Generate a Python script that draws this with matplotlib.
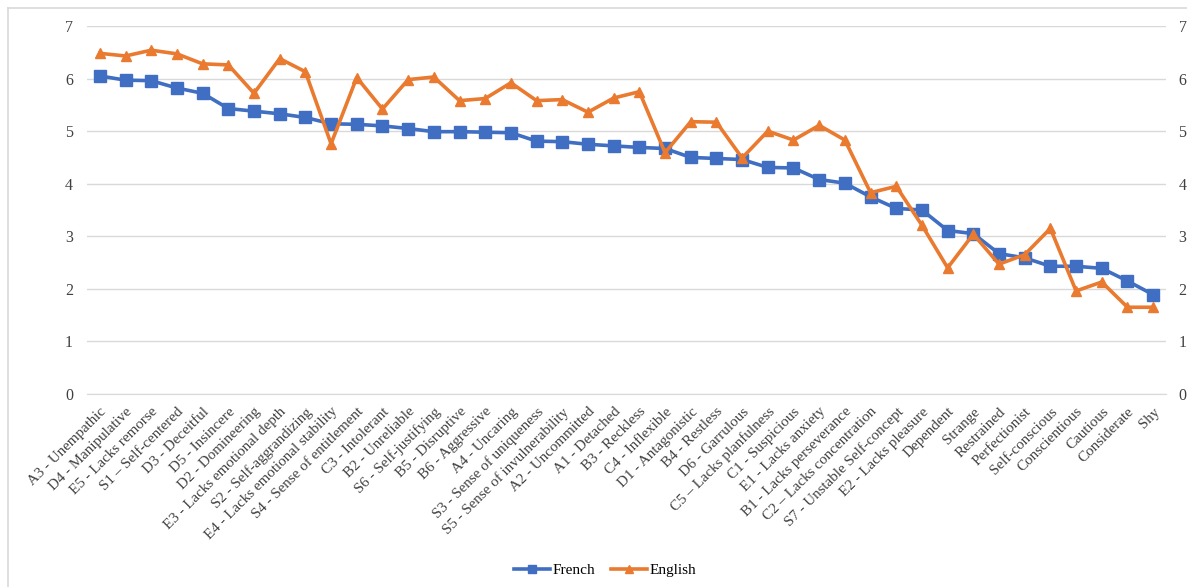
import matplotlib.pyplot as plt
from matplotlib.lines import Line2D

# -----------------------------
# Data
# -----------------------------
traits = [
    "A3 - Unempathic", "D4 - Manipulative", "E5 - Lacks remorse", "S1 \u2013 Self-centered",
    "D3 - Deceitful", "D5 - Insincere", "D2 - Domineering", "E3 - Lacks emotional depth",
    "S2 - Self-aggrandizing", "E4 - Lacks emotional stability", "S4 - Sense of entitlement",
    "C3 - Intolerant", "B2 - Unreliable", "S6 - Self-justifying", "B5 - Disruptive",
    "B6 - Aggressive", "A4 - Uncaring", "S3 - Sense of uniqueness",
    "S5 - Sense of invulnerability", "A2 - Uncommitted", "A1 - Detached", "B3 - Reckless",
    "C4 - Inflexible", "D1 - Antagonistic", "B4 - Restless", "D6 - Garrulous",
    "C5 \u2013 Lacks planfulness", "C1 - Suspicious", "E1 - Lacks anxiety",
    "B1 - Lacks perseverance", "C2 \u2013 Lacks concentration", "S7 - Unstable Self-concept",
    "E2 - Lacks pleasure", "Dependent", "Strange", "Restrained", "Perfectionist",
    "Self-conscious", "Conscientious", "Cautious", "Considerate", "Shy",
]

french = [6.05, 5.97, 5.96, 5.82, 5.72, 5.43, 5.38, 5.33, 5.26, 5.14, 5.13, 5.10, 5.05,
          4.99, 4.99, 4.98, 4.97, 4.81, 4.80, 4.75, 4.72, 4.69, 4.67, 4.50, 4.48, 4.46,
          4.31, 4.30, 4.08, 4.01, 3.75, 3.53, 3.50, 3.11, 3.05, 2.67, 2.59, 2.43, 2.43,
          2.39, 2.15, 1.89]

english = [6.48, 6.43, 6.54, 6.47, 6.28, 6.26, 5.72, 6.38, 6.13, 4.76, 6.02, 5.42, 5.98,
           6.03, 5.58, 5.62, 5.92, 5.58, 5.60, 5.36, 5.63, 5.75, 4.59, 5.18, 5.17, 4.49,
           5.00, 4.83, 5.11, 4.83, 3.83, 3.95, 3.21, 2.40, 3.04, 2.47, 2.65, 3.15, 1.96,
           2.13, 1.65, 1.65]

yticks = [0, 1, 2, 3, 4, 5, 6, 7]

blue = "#3F6EC2"
orange = "#E97A2F"
grid_col = "#D9D9D9"
text_col = "#404040"

plt.rcParams['font.family'] = ['Liberation Serif', 'DejaVu Serif']

fig = plt.figure(figsize=(11.87, 5.87), dpi=100, facecolor='white')
ax = fig.add_axes([87 / 1187, 1 - 394 / 587, (1166 - 87) / 1187, (394 - 26) / 587])

x = list(range(len(traits)))
ax.plot(x, french, color=blue, linewidth=2.6, marker='s', markersize=8,
        markerfacecolor=blue, markeredgecolor=blue, label='French', zorder=3)
ax.plot(x, english, color=orange, linewidth=2.6, marker='^', markersize=7,
        markerfacecolor=orange, markeredgecolor=orange, label='English', zorder=3)

ax.set_xlim(-0.5, len(traits) - 0.5)
ax.set_ylim(0, 7)
ax.set_yticks(yticks)
ax.set_yticklabels([str(v) for v in yticks], fontsize=11.5, color=text_col)
ax.tick_params(axis='y', length=0, pad=10)
ax.yaxis.grid(True, color=grid_col, linewidth=1.0)
ax.set_axisbelow(True)

# right-hand copy of the value axis
ax_r = ax.twinx()
ax_r.set_ylim(ax.get_ylim())
ax_r.set_yticks(yticks)
ax_r.set_yticklabels([str(v) for v in yticks], fontsize=11.5, color=text_col)
ax_r.tick_params(axis='y', length=0, pad=9)
for s in ax_r.spines.values():
    s.set_visible(False)

ax.set_xticks(x)
ax.set_xticklabels(traits, rotation=45, ha='right', rotation_mode='anchor',
                   fontsize=10.8, color=text_col)
ax.tick_params(axis='x', length=0, pad=8)

for s in ['top', 'right', 'left']:
    ax.spines[s].set_visible(False)
ax.spines['bottom'].set_color(grid_col)

handles = [
    Line2D([], [], color=blue, linewidth=2.6, marker='s', markersize=6),
    Line2D([], [], color=orange, linewidth=2.6, marker='^', markersize=6),
]
fig.legend(handles, ['French', 'English'], loc='center', bbox_to_anchor=(605 / 1187, 1 - 570 / 587),
           ncol=2, frameon=False, fontsize=11, handlelength=2.4, handletextpad=0.15,
           columnspacing=1.0)

# chart area border (left and top edge visible)
fig.add_artist(Line2D([8 / 1187, 8 / 1187], [0, 1 - 8 / 587], transform=fig.transFigure,
                      color=grid_col, linewidth=1.2))
fig.add_artist(Line2D([8 / 1187, 1], [1 - 8 / 587, 1 - 8 / 587], transform=fig.transFigure,
                      color=grid_col, linewidth=1.2))

fig.savefig('out.png', dpi=100)
